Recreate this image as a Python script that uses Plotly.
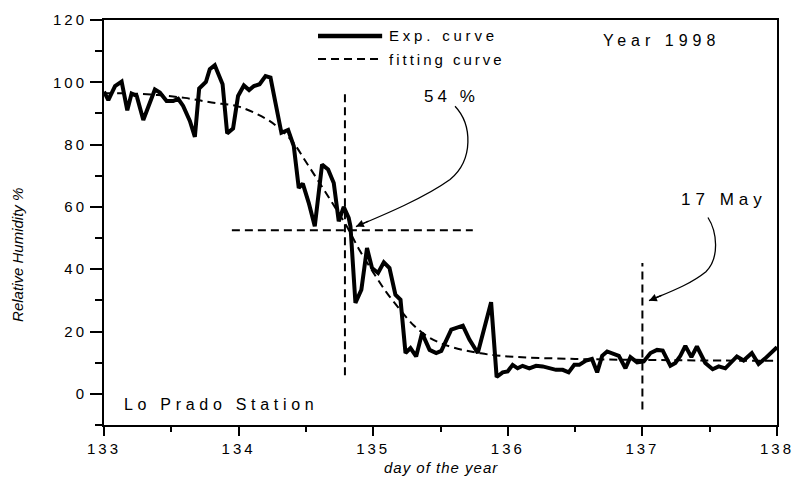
import plotly.graph_objects as go

# ---------------- data ----------------
exp_day = [133.000, 133.032, 133.082, 133.131, 133.173, 133.205, 133.243, 133.292, 133.378, 133.415,
           133.465, 133.514, 133.551, 133.588, 133.638, 133.675, 133.707, 133.757, 133.786, 133.823,
           133.881, 133.915, 133.959, 133.996, 134.039, 134.078, 134.114, 134.156, 134.200, 134.237,
           134.274, 134.318, 134.368, 134.410, 134.447, 134.477, 134.521, 134.566, 134.620, 134.665,
           134.707, 134.744, 134.781, 134.818, 134.831, 134.868, 134.912, 134.954, 134.991, 135.036,
           135.079, 135.121, 135.165, 135.203, 135.240, 135.277, 135.319, 135.363, 135.419, 135.468,
           135.506, 135.580, 135.666, 135.715, 135.777, 135.876, 135.917, 135.962, 135.999, 136.036,
           136.073, 136.110, 136.160, 136.210, 136.259, 136.309, 136.358, 136.408, 136.452, 136.494,
           136.531, 136.581, 136.625, 136.664, 136.701, 136.738, 136.788, 136.825, 136.874, 136.911,
           136.961, 137.010, 137.060, 137.109, 137.151, 137.208, 137.245, 137.282, 137.319, 137.364,
           137.405, 137.467, 137.522, 137.567, 137.616, 137.661, 137.702, 137.752, 137.813, 137.863,
           137.913, 138.000]
exp_rh = [97.0, 94.3, 98.8, 100.2, 91.0, 96.4, 95.6, 87.9, 97.7, 96.7,
          94.0, 94.0, 94.7, 92.4, 87.6, 82.5, 98.0, 100.1, 104.2, 105.5,
          99.4, 83.6, 85.2, 95.6, 99.0, 97.5, 98.8, 99.4, 102.0, 101.5,
          93.4, 83.8, 84.7, 79.5, 66.1, 67.5, 61.3, 53.8, 73.6, 72.0,
          67.7, 55.4, 60.0, 56.5, 53.8, 29.2, 33.4, 46.8, 40.4, 38.8,
          42.2, 40.4, 31.8, 30.2, 13.1, 14.7, 12.0, 19.5, 14.1, 13.1,
          13.8, 20.6, 21.9, 17.4, 13.1, 29.4, 5.4, 6.9, 7.2, 9.3,
          8.2, 9.0, 8.2, 9.0, 8.8, 8.2, 7.7, 7.7, 6.9, 9.3,
          9.3, 10.7, 11.2, 6.9, 12.2, 13.6, 12.9, 12.2, 8.2, 11.8,
          10.1, 10.4, 13.1, 14.1, 13.9, 9.0, 9.9, 12.2, 15.4, 11.8,
          15.2, 9.9, 7.9, 8.8, 8.2, 10.1, 12.0, 10.7, 13.1, 9.6,
          11.4, 15.0]

fit_day = [133.0, 133.2, 133.4, 133.6, 133.8, 134.0, 134.2, 134.3, 134.4, 134.5, 134.6, 134.7,
           134.8, 134.9, 135.0, 135.1, 135.2, 135.3, 135.4, 135.5, 135.6, 135.8, 136.0, 136.5,
           137.0, 137.5, 138.0]
fit_rh = [96.5, 96.4, 95.9, 95.0, 93.5, 92.2, 88.4, 85.3, 81.0, 74.5, 67.8, 61.0,
          54.0, 46.0, 39.0, 32.5, 27.0, 22.0, 18.5, 16.3, 14.8, 13.0, 12.0, 11.2,
          10.9, 10.7, 10.6]

# reference lines
inflection_day = 134.79
inflection_rh = 52.5
inflection_v_span = [6.0, 97.0]
inflection_h_span = [133.95, 135.74]
may17_day = 137.0
may17_v_span = [-5.0, 42.0]

x_ticks = [133, 134, 135, 136, 137, 138]
x_labels = ["133", "134", "135", "136", "137", "138"]
y_ticks = [0, 20, 40, 60, 80, 100, 120]
y_labels = ["0", "20", "40", "60", "80", "100", "120"]

FONT = "Liberation Sans, Arial, sans-serif"


def spaced(s, px):
    return '<span style="letter-spacing:%spx">%s</span>' % (px, s)


fig = go.Figure()

fig.add_trace(go.Scatter(x=fit_day, y=fit_rh, mode="lines",
                         line=dict(color="black", width=2, dash="8px,5px", shape="spline"),
                         showlegend=False, hoverinfo="skip"))
fig.add_trace(go.Scatter(x=exp_day, y=exp_rh, mode="lines",
                         line=dict(color="black", width=4),
                         showlegend=False))
# reference dashed lines
fig.add_trace(go.Scatter(x=[inflection_day, inflection_day], y=inflection_v_span, mode="lines",
                         line=dict(color="black", width=2, dash="8px,5px"), showlegend=False, hoverinfo="skip"))
fig.add_trace(go.Scatter(x=inflection_h_span, y=[inflection_rh, inflection_rh], mode="lines",
                         line=dict(color="black", width=2, dash="8px,5px"), showlegend=False, hoverinfo="skip"))
fig.add_trace(go.Scatter(x=[may17_day, may17_day], y=may17_v_span, mode="lines",
                         line=dict(color="black", width=2, dash="8px,5px"), showlegend=False, hoverinfo="skip"))

shapes = [
    # legend samples
    dict(type="line", xref="paper", yref="paper", x0=0.318, x1=0.4133, y0=0.9605, y1=0.9605,
         line=dict(color="black", width=4.5)),
    dict(type="line", xref="paper", yref="paper", x0=0.318, x1=0.4133, y0=0.9037, y1=0.9037,
         line=dict(color="black", width=2, dash="8px,5px")),
    # curved arrows
    dict(type="path", xref="x", yref="y",
         path="M 135.608,92.3 C 135.734,86.5 135.749,75.2 135.571,68.8 C 135.385,63.0 135.088,57.6 134.872,53.7",
         line=dict(color="black", width=1.3)),
    dict(type="path", xref="x", yref="y",
         path="M 137.487,56.6 C 137.554,52.1 137.576,43.7 137.472,39.2 C 137.353,35.0 137.190,32.5 137.049,29.9",
         line=dict(color="black", width=1.3)),
]

annotations = [
    dict(x=134.872, y=53.7, ax=14, ay=-6, xref="x", yref="y",
         text="", showarrow=True, arrowhead=2, arrowsize=1.2, arrowwidth=1.3, arrowcolor="black"),
    dict(x=137.049, y=29.9, ax=14, ay=-6, xref="x", yref="y",
         text="", showarrow=True, arrowhead=2, arrowsize=1.2, arrowwidth=1.3, arrowcolor="black"),
    dict(x=0.4207, y=0.9605, xref="paper", yref="paper", text=spaced("Exp. curve", 3.8), showarrow=False,
         xanchor="left", yanchor="middle", font=dict(size=15)),
    dict(x=0.4207, y=0.9037, xref="paper", yref="paper", text=spaced("fitting curve", 3.0), showarrow=False,
         xanchor="left", yanchor="middle", font=dict(size=15)),
    dict(x=0.828, y=0.9506, xref="paper", yref="paper", text=spaced("Year 1998", 5), showarrow=False,
         xanchor="center", yanchor="middle", font=dict(size=16)),
    dict(x=0.0263, y=0.0494, xref="paper", yref="paper", text=spaced("Lo Prado Station", 4.7), showarrow=False,
         xanchor="left", yanchor="middle", font=dict(size=16)),
    dict(x=135.585, y=95.5, xref="x", yref="y", text=spaced("54 %", 4), showarrow=False,
         xanchor="center", yanchor="middle", font=dict(size=17)),
    dict(x=137.606, y=62.4, xref="x", yref="y", text=spaced("17 May", 5), showarrow=False,
         xanchor="center", yanchor="middle", font=dict(size=17)),
    dict(x=-0.1278, y=0.42, xref="paper", yref="paper", text="<i>Relative Humidity %</i>",
         showarrow=False, textangle=-90, xanchor="center", yanchor="middle", font=dict(size=15)),
    dict(x=0.501, y=-0.106, xref="paper", yref="paper", text="<i>" + spaced("day of the year", 1) + "</i>",
         showarrow=False, xanchor="center", yanchor="middle", font=dict(size=15)),
]

fig.update_layout(
    width=794, height=487,
    margin=dict(l=104, r=17, t=20, b=62, autoexpand=False),
    paper_bgcolor="white", plot_bgcolor="white",
    font=dict(family=FONT, color="black", size=15),
    shapes=shapes, annotations=annotations,
)

fig.update_xaxes(range=[133, 138], tickvals=x_ticks, ticktext=[spaced(t, 3) for t in x_labels],
                 ticks="outside", ticklen=9, tickwidth=2, automargin=False, ticklabeloverflow="allow",
                 tickcolor="black", showline=True, linewidth=2, linecolor="black", mirror=True,
                 showgrid=False, zeroline=False, tickfont=dict(size=15),
                 minor=dict(dtick=0.5, tick0=133, ticks="outside", ticklen=5, tickwidth=2, tickcolor="black"))
fig.update_yaxes(range=[-10, 120], tickvals=y_ticks, ticktext=[spaced(t, 3) for t in y_labels],
                 ticks="outside", ticklen=12, tickwidth=2, automargin=False, ticklabeloverflow="allow",
                 tickcolor="black", showline=True, linewidth=2, linecolor="black", mirror=True,
                 showgrid=False, zeroline=False, tickfont=dict(size=15),
                 minor=dict(dtick=10, tick0=0, ticks="outside", ticklen=7, tickwidth=2, tickcolor="black"))

fig.write_html("out.html")
